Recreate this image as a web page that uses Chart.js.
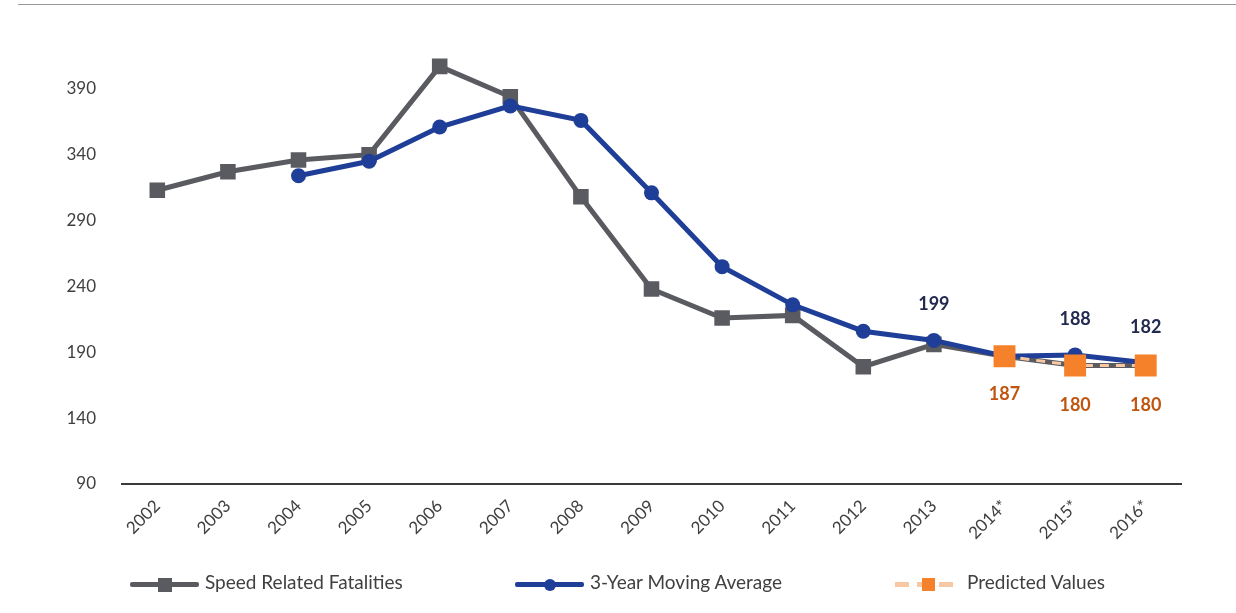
<!DOCTYPE html>
<html>
<head>
<meta charset="utf-8">
<script src="https://cdn.jsdelivr.net/npm/chart.js@4.4.1/dist/chart.umd.min.js"></script>
<style>
    html, body { margin: 0; padding: 0; background: #fff; }
    #wrap { position: relative; width: 1236px; height: 613px; overflow: hidden; }
    #topRule { position: absolute; left: 18px; right: 0; top: 4px; border-top: 1px solid #9a9a9a; }
    #speedChart { position: absolute; left: 0; top: 0; }
    .legend { position: absolute; top: 570px; font-family: Lato, "Open Sans", sans-serif; font-size: 19px; color: #404040; white-space: nowrap; }
    .legend .icon { position: absolute; top: 12px; height: 5px; }
    .legend .mark { position: absolute; }
</style>
</head>
<body>
<div id="wrap">
    <div id="topRule"></div>
    <canvas id="speedChart" width="1236" height="613"></canvas>
    <div id="legendBox"></div>
</div>
<script>
// data
const years = ['2002', '2003', '2004', '2005', '2006', '2007', '2008', '2009', '2010', '2011', '2012', '2013', '2014*', '2015*', '2016*'];
const speedFatalities = [313, 327, 336, 340, 407, 384, 308, 238, 216, 218, 179, 196, 187, 180, 180];
const movingAverage = [null, null, 324, 335, 361, 377, 366, 311, 255, 226, 206, 199, 187, 188, 182];
const predicted = [null, null, null, null, null, null, null, null, null, null, null, null, 187, 180, 180];
const yTicks = [90, 140, 190, 240, 290, 340, 390];

// which points get a number printed next to them
const avgLabelAt = ['2013', '2015*', '2016*'];
const predLabelAt = ['2014*', '2015*', '2016*'];

const gray = '#5a5b60';
const blue = '#1f3e97';
const orange = '#f5822a';

const pointLabels = {
    id: 'pointLabels',
    afterDatasetsDraw(chart) {
        const ctx = chart.ctx;
        ctx.save();
        ctx.font = 'bold 18px Lato, "Open Sans", sans-serif';
        ctx.textAlign = 'center';
        ctx.textBaseline = 'middle';
        const avgMeta = chart.getDatasetMeta(1);
        const predMeta = chart.getDatasetMeta(2);
        years.forEach(function(y, i) {
            if (avgLabelAt.includes(y)) {
                const p = avgMeta.data[i];
                ctx.fillStyle = '#222a4f';
                ctx.fillText(String(movingAverage[i]), p.x, p.y - 36);
            }
            if (predLabelAt.includes(y)) {
                const p = predMeta.data[i];
                ctx.fillStyle = '#c0550f';
                ctx.fillText(String(predicted[i]), p.x, p.y + (i === 12 ? 38 : 40));
            }
        });
        ctx.restore();
    }
};

const chart = new Chart(document.getElementById('speedChart').getContext('2d'), {
    type: 'line',
    data: {
        labels: years,
        datasets: [{
            label: 'Speed Related Fatalities',
            data: speedFatalities,
            borderColor: gray,
            backgroundColor: gray,
            borderWidth: 5,
            pointStyle: 'rect',
            pointRadius: 11,
            pointBorderWidth: 0,
            order: 3
        }, {
            label: '3-Year Moving Average',
            data: movingAverage,
            borderColor: blue,
            backgroundColor: blue,
            borderWidth: 5,
            pointStyle: 'circle',
            pointRadius: 7.5,
            pointBorderWidth: 0,
            order: 2
        }, {
            label: 'Predicted Values',
            data: predicted,
            borderColor: '#f8c8a4',
            backgroundColor: orange,
            borderWidth: 3,
            borderDash: [9, 7],
            pointStyle: 'rect',
            pointRadius: 15.5,
            pointBorderWidth: 0,
            order: 1
        }]
    },
    options: {
        responsive: false,
        animation: false,
        layout: { padding: { left: 0, top: 16, right: 55, bottom: 0 } },
        plugins: {
            legend: { display: false },
            tooltip: { enabled: false }
        },
        scales: {
            x: {
                offset: true,
                grid: { display: false, offset: true },
                border: { display: true, color: '#3a3a3a', width: 2 },
                ticks: {
                    color: '#404040',
                    font: { family: 'Lato, "Open Sans", sans-serif', size: 17 },
                    minRotation: 45,
                    maxRotation: 45,
                    padding: 4
                },
                afterFit: function(scale) { scale.height = 129; }
            },
            y: {
                min: 90,
                max: 436,
                grid: { display: false },
                border: { display: false },
                afterBuildTicks: function(scale) {
                    scale.ticks = yTicks.map(function(v) { return { value: v }; });
                },
                ticks: {
                    color: '#404040',
                    font: { family: 'Lato, "Open Sans", sans-serif', size: 17 },
                    padding: 18
                },
                afterFit: function(scale) { scale.width = 122; }
            }
        }
    },
    plugins: [pointLabels]
});

// legend, laid out like the source
const legendItems = [
    { ds: 0, left: 130, text: 205, line: gray, dash: false, mark: 'rect', size: 14, markColor: gray },
    { ds: 1, left: 515, text: 590, line: blue, dash: false, mark: 'circle', size: 12, markColor: blue },
    { ds: 2, left: 895, text: 967, line: '#f8c8a4', dash: true, mark: 'rect', size: 13, markColor: orange }
];
const box = document.getElementById('legendBox');
legendItems.forEach(function(it) {
    const el = document.createElement('div');
    el.className = 'legend';
    el.style.left = it.left + 'px';
    el.style.width = '400px';
    const w = it.text - it.left - 6;
    let html = '';
    if (it.dash) {
        html += '<div class="icon" style="left:0;width:' + w + 'px;background:repeating-linear-gradient(90deg,' + it.line + ' 0 14px,transparent 14px 22px);"></div>';
    } else {
        html += '<div class="icon" style="left:0;width:' + w + 'px;background:' + it.line + ';border-radius:2px;"></div>';
    }
    html += '<div class="mark" style="left:' + (w / 2 - it.size / 2) + 'px;top:' + (14.5 - it.size / 2) + 'px;width:' + it.size + 'px;height:' + it.size + 'px;background:' + it.markColor + ';' + (it.mark === 'circle' ? 'border-radius:50%;' : '') + '"></div>';
    html += '<span style="position:absolute;left:' + (it.text - it.left) + 'px;top:0;">' + chart.data.datasets[it.ds].label + '</span>';
    el.innerHTML = html;
    box.appendChild(el);
});
</script>
</body>
</html>
